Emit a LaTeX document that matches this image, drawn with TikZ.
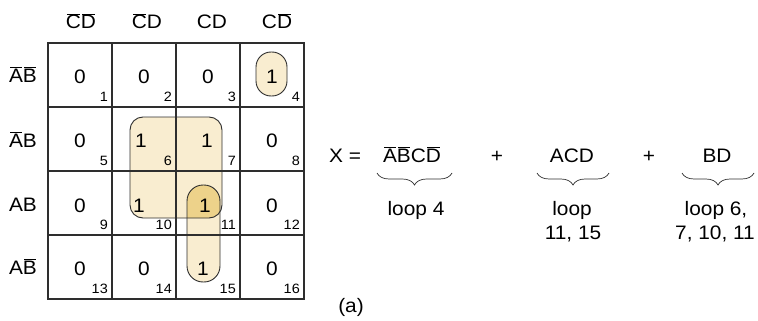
\documentclass[tikz,border=0pt]{standalone}
\usepackage{fontspec}
\setmainfont[FakeStretch=1.07]{Liberation Sans}
\usetikzlibrary{decorations.pathreplacing}
\definecolor{loopfill}{HTML}{F9EDD0}
\definecolor{overlapfill}{HTML}{EDD28A}
\definecolor{gridc}{HTML}{2E2E2E}
\newcommand{\ob}[1]{\mbox{\rlap{\kern1.2pt$\overline{\mbox{\kern-2.4pt\phantom{#1}}}$}#1}}
\begin{document}
\begin{tikzpicture}[x=1pt,y=-1pt,
  main/.style={font=\fontsize{19.5}{24}\selectfont, inner sep=0pt, anchor=base},
  idx/.style={font=\fontsize{13.5}{15}\selectfont, inner sep=0pt, anchor=base east},
  loopline/.style={draw=gridc, line width=0.9pt},
  gridline/.style={draw=gridc, line width=1.3pt},
  brc/.style={decorate, decoration={brace, mirror, amplitude=12pt}, line width=0.7pt, draw=gridc}]
\useasboundingbox (0,0) rectangle (758,321);
% loop fills
\fill[loopfill, rounded corners=13pt] (130,117) rectangle (222,218);
\fill[loopfill, rounded corners=16pt] (187,185) rectangle (220,282);
\fill[loopfill, rounded corners=15pt] (256,52) rectangle (287,96);
\begin{scope}
  \clip[rounded corners=13pt] (130,117) rectangle (222,218);
  \fill[overlapfill, rounded corners=16pt] (187,185) rectangle (220,282);
\end{scope}
% grid
\foreach \x in {112,176,240} \draw[gridline] (\x,43) -- (\x,299);
\foreach \y in {107,171,235} \draw[gridline] (48,\y) -- (304,\y);
\draw[draw=gridc, line width=1.8pt] (48,43) rectangle (304,299);
% loop outlines
\draw[loopline, rounded corners=13pt] (130,117) rectangle (222,218);
\draw[loopline, rounded corners=16pt] (187,185) rectangle (220,282);
\draw[loopline, rounded corners=15pt] (256,52) rectangle (287,96);
% column headers
\node[main] (h1) at (81,29) {\ob{C}\ob{D}};
\node[main] (h2) at (147,29) {\ob{C}D};
\node[main] (h3) at (212,29) {CD};
\node[main] (h4) at (277,29) {C\ob{D}};
% row labels
\node[main] (r1) at (23,82) {\ob{A}\ob{B}};
\node[main] (r2) at (23,147) {\ob{A}B};
\node[main] (r3) at (23,211) {AB};
\node[main] (r4) at (23,274) {A\ob{B}};
% cell values
\node[main] (v1) at (80,84) {0};
\node[main] (v2) at (144,84) {0};
\node[main] (v3) at (208,84) {0};
\node[main] (v4) at (272,84) {1};
\node[main] (v5) at (80,147) {0};
\node[main] (v6) at (141,147) {1};
\node[main] (v7) at (207,147) {1};
\node[main] (v8) at (272,147) {0};
\node[main] (v9) at (80,212) {0};
\node[main] (v10) at (139,212) {1};
\node[main] (v11) at (205,212) {1};
\node[main] (v12) at (272,212) {0};
\node[main] (v13) at (80,275) {0};
\node[main] (v14) at (144,275) {0};
\node[main] (v15) at (203,275) {1};
\node[main] (v16) at (272,275) {0};
% cell indices
\foreach \n [count=\i from 0] in {1,...,16}{
  \pgfmathtruncatemacro{\col}{mod(\i,4)}
  \pgfmathtruncatemacro{\row}{div(\i,4)}
  \node[idx] (i\n) at ({48+64*(\col+1)-4},{43+64*(\row+1)-6}) {\n};
}
% expression
\node[main] (X) at (345,162) {X =};
\node[main] (t1) at (412,162) {\ob{A}\ob{B}C\ob{D}};
\node[main] (p1) at (497,162) {+};
\node[main] (t2) at (572,162) {ACD};
\node[main] (p2) at (649,162) {+};
\node[main] (t3) at (717,162) {BD};
\coordinate (b1l) at (377,173); \coordinate (b1r) at (452,173);
\coordinate (b2l) at (537,173); \coordinate (b2r) at (609,173);
\coordinate (b3l) at (682,173); \coordinate (b3r) at (754,173);
\draw[brc] (b1l) -- (b1r);
\draw[brc] (b2l) -- (b2r);
\draw[brc] (b3l) -- (b3r);
\node[main] (l1) at (416,215) {loop 4};
\node[main] (l2a) at (572,215) {loop};
\node[main] (l2b) at (573,239) {11, 15};
\node[main] (l3a) at (716,215) {loop 6,};
\node[main] (l3b) at (715,239) {7, 10, 11};
\node[main, anchor=center] (a) at (351,307) {(a)};
\end{tikzpicture}
\end{document}
